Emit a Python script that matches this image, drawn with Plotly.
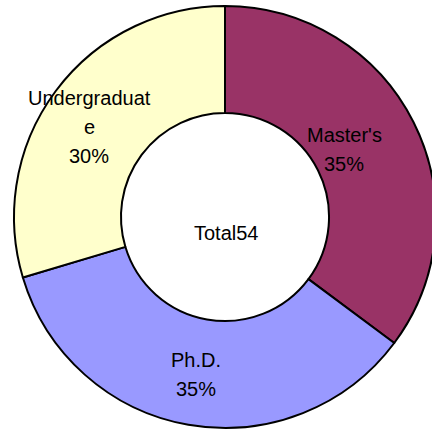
import math
import plotly.graph_objects as go

categories = ["Master's", "Ph.D.", "Undergraduate"]
label_lines = [["Master's"], ["Ph.D."], ["Undergraduat", "e"]]
counts = [19, 19, 16]
colors = ["#993366", "#9999FF", "#FFFFCC"]
center_label = "Total" + str(sum(counts))

# layout / style (pixels)
W, H = 440, 432          # page is clipped to the 432 window
cx, cy, R = 225, 217, 211
HOLE = 0.493
LABEL_R = [137, 160, 163]        # radius at which each slice label block is centred
LABEL_DANGLE = [-2.7, 0.5, -3.2]  # small angular nudge of each label block (deg)
PITCH = 29
FONT = "Liberation Sans, Arial, sans-serif"
FS = 20

fig = go.Figure(go.Pie(
    labels=categories,
    values=counts,
    textinfo="none",
    hole=HOLE,
    sort=False,
    direction="clockwise",
    rotation=0,
    marker=dict(colors=colors, line=dict(color="black", width=2)),
    hoverinfo="label+value+percent",
    domain=dict(x=[(cx - R) / W, (cx + R) / W],
                y=[(H - cy - R) / H, (H - cy + R) / H]),
))

total = sum(counts)
annotations = []
cum = 0
for name_lines, v, lr, da in zip(label_lines, counts, LABEL_R, LABEL_DANGLE):
    mid = (cum + v / 2) / total * 2 * math.pi + math.radians(da)
    cum += v
    px = cx + lr * math.sin(mid)
    py = cy - lr * math.cos(mid)
    lines = name_lines + [f"{round(100 * v / total)}%"]
    n = len(lines)
    for i, t in enumerate(lines):
        ly = py + (i - (n - 1) / 2) * PITCH
        annotations.append(dict(
            x=px / W, y=1 - ly / H, xref="paper", yref="paper",
            text=t, showarrow=False, xanchor="center", yanchor="middle",
            font=dict(family=FONT, size=FS, color="black"),
        ))

annotations.append(dict(
    x=(cx + 1) / W, y=1 - cy / H, xref="paper", yref="paper",
    text=center_label, showarrow=False, xanchor="center", yanchor="middle",
    yshift=-16, font=dict(family=FONT, size=FS, color="black"),
))

fig.update_layout(
    width=W, height=H,
    margin=dict(l=0, r=0, t=0, b=0),
    showlegend=False,
    paper_bgcolor="white",
    plot_bgcolor="white",
    annotations=annotations,
)

fig.write_html("out.html",
               config={"displayModeBar": False},
               post_script="document.body.style.margin='0';document.body.style.overflow='hidden';")
